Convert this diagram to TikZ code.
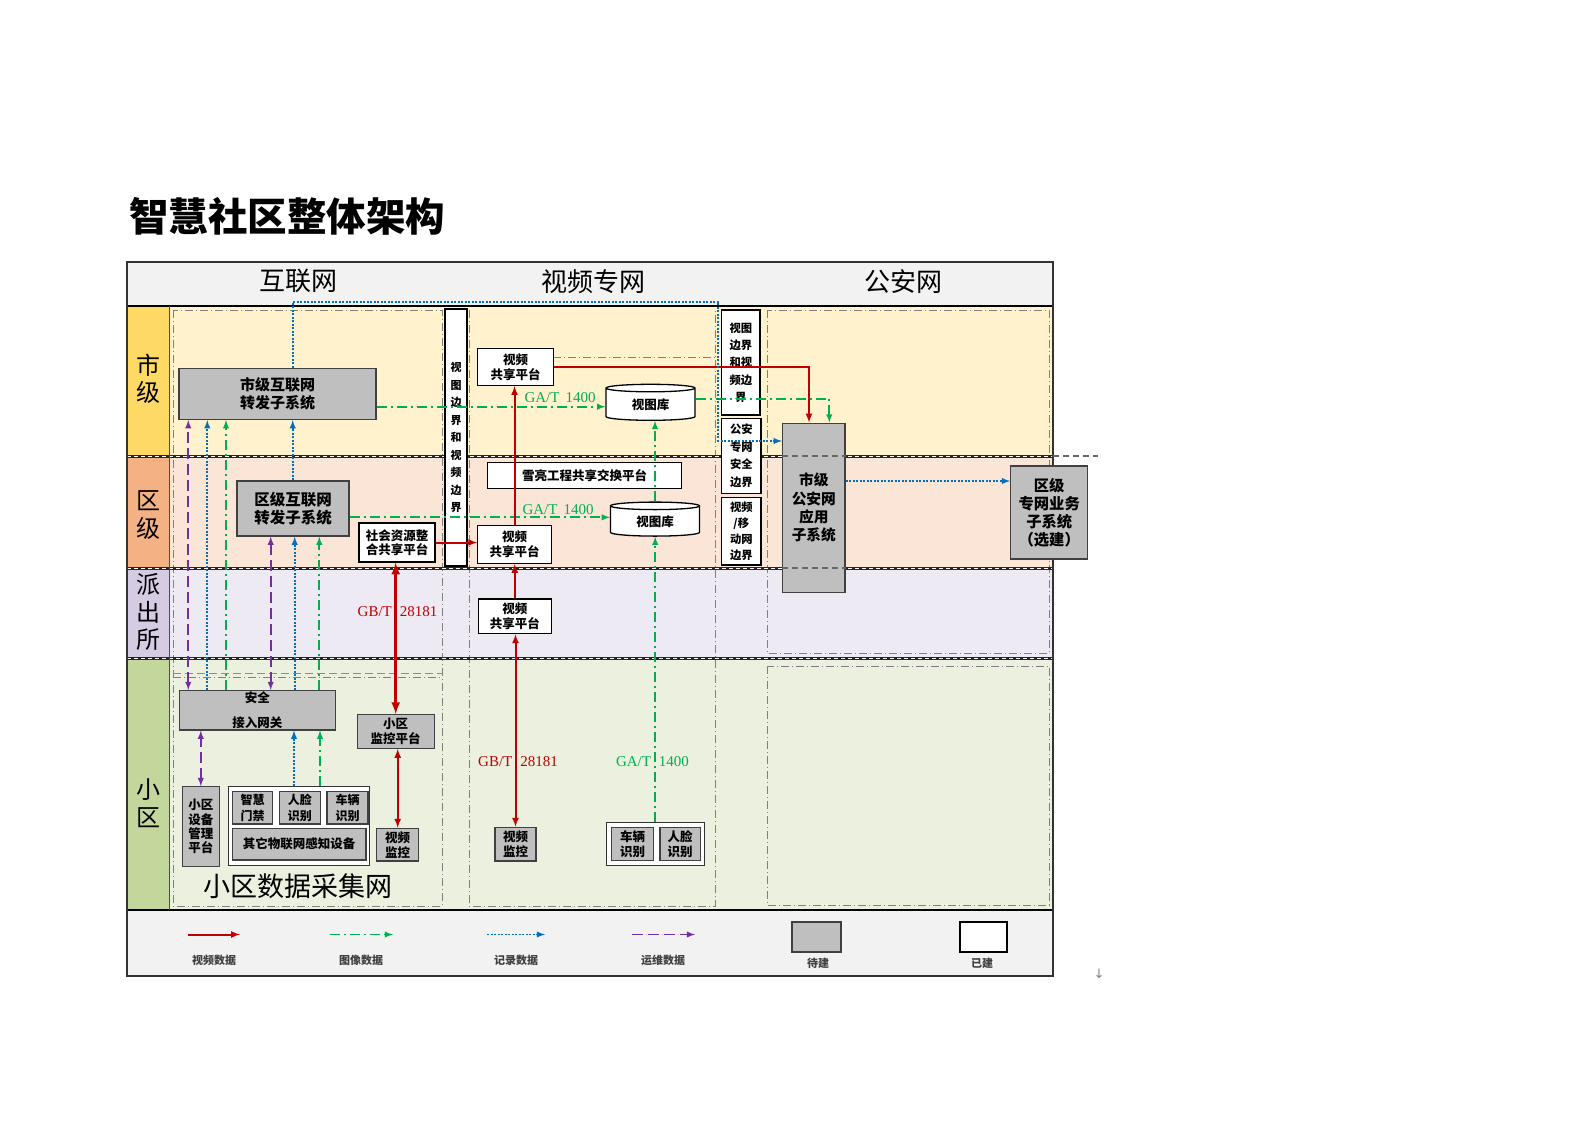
\documentclass[tikz,border=0pt]{standalone}
\usepackage{fontspec}
\setmainfont{Liberation Serif}
\newfontfamily\cjk{Noto Sans CJK SC}
\newfontfamily\symfont{DejaVu Sans}
\usetikzlibrary{positioning,shapes,shadows,arrows}

\definecolor{vred}{HTML}{C00000}
\definecolor{vgreen}{HTML}{00B050}
\definecolor{vblue}{HTML}{0070C0}
\definecolor{vpurple}{HTML}{7030A0}
\definecolor{boxgray}{HTML}{BFBFBF}
\definecolor{headgray}{HTML}{F2F2F2}
\definecolor{cityrow}{HTML}{FFF2CC}
\definecolor{citylab}{HTML}{FFD966}
\definecolor{distrow}{HTML}{FBE5D6}
\definecolor{distlab}{HTML}{F4B183}
\definecolor{polrow}{HTML}{EEEAF3}
\definecolor{pollab}{HTML}{D5CBE3}
\definecolor{commrow}{HTML}{EBF1DE}
\definecolor{commlab}{HTML}{C3D69B}

\newcommand\bxfont[2]{\cjk\bfseries\fontsize{#1}{#2}\selectfont}

\tikzset{
  todo/.style={draw=black!75, line width=1.3pt, fill=boxgray, align=center, inner sep=0pt, font=\bxfont{12.5}{15}},
  done/.style={draw=black, line width=1.3pt, fill=white, align=center, inner sep=0pt, font=\bxfont{12.5}{15}},
  viewlib/.style={done, cylinder, shape border rotate=90, aspect=0.2, minimum width=89pt, minimum height=36pt},
  holder/.style={draw=black!80, line width=1pt, fill=white, inner sep=0pt},
  videoflow/.style={draw=vred, line width=2pt, -latex},
  imageflow/.style={draw=vgreen, line width=1.8pt, dash pattern=on 10pt off 4pt on 2pt off 4pt, -latex},
  recordflow/.style={draw=vblue, line width=1.8pt, dash pattern=on 2pt off 1.5pt, -latex},
  opsflow/.style={draw=vpurple, line width=1.8pt, dash pattern=on 11pt off 5pt, -latex},
  zone/.style={draw=black!50, line width=0.9pt, dash pattern=on 8pt off 3pt on 1pt off 3pt},
  rowline/.style={draw=black!85, line width=3pt},
  rowdash/.style={draw=white, line width=0.9pt, dash pattern=on 4pt off 3pt},
  overdash/.style={draw=black!60, line width=1.2pt, dash pattern=on 6pt off 4pt},
  flowlabel/.style={font=\fontsize{15}{15}\selectfont, inner sep=0pt},
  legendtext/.style={font=\bxfont{11}{11}, text=black!75, inner sep=0pt},
}

\begin{document}
\begin{tikzpicture}[x=1pt, y=-1pt]
  \useasboundingbox (0,0) rectangle (1591,1125);
  \node[font=\bxfont{39.5}{40}] (title) at (287,216.5) {智慧社区整体架构};

  % bands
  \fill[headgray] (127,262) rectangle (1053,306);
  \fill[cityrow] (169,306) rectangle (1053,456);
  \fill[distrow] (169,456) rectangle (1053,568);
  \fill[polrow] (169,568) rectangle (1053,658);
  \fill[commrow] (169,658) rectangle (1053,910);
  \fill[headgray] (127,910) rectangle (1053,976);
  \fill[citylab] (127,306) rectangle (169,456);
  \fill[distlab] (127,456) rectangle (169,568);
  \fill[pollab] (127,568) rectangle (169,658);
  \fill[commlab] (127,658) rectangle (169,910);

  % zones
  \draw[zone] (173,310) rectangle (442,906);
  \draw[zone] (173,677) -- (442,677);
  \draw[black!45, line width=0.9pt, dash pattern=on 8pt off 4pt] (173,673) -- (442,673);
  \draw[zone] (469,310) -- (469,906) -- (715,906) -- (715,310);
  \draw[zone] (553,357) -- (715,357);
  \draw[zone] (767,310) rectangle (1049,653);
  \draw[zone] (767,666) rectangle (1049,905);

  % row lines
  \foreach \y in {456,568,658} {
    \draw[rowline] (127,\y) -- (1053,\y);
    \draw[rowdash] (127,\y) -- (1053,\y);
  }
  \draw[line width=2pt] (127,306) -- (1053,306);
  \draw[line width=2pt] (127,910) -- (1053,910);
  \draw[black!70, line width=1pt] (169,306) -- (169,910);
  \draw[black!80, line width=1.5pt] (127,262) rectangle (1053,976);
  \draw[overdash] (1053,456) -- (1098,456);

  % headers and levels
  \node[font=\cjk\fontsize{26}{26}\selectfont] (hinet) at (298,281) {互联网};
  \node[font=\cjk\fontsize{26}{26}\selectfont] (hvideo) at (593,281.5) {视频专网};
  \node[font=\cjk\fontsize{26}{26}\selectfont] (hpolice) at (903,281.5) {公安网};
  \node[font=\cjk\fontsize{24}{27.5}\selectfont, align=center] (lcity) at (148,379) {市\\级};
  \node[font=\cjk\fontsize{24}{27.5}\selectfont, align=center] (ldist) at (148,515) {区\\级};
  \node[font=\cjk\fontsize{24}{27.5}\selectfont, align=center] (lpol) at (148,612) {派\\出\\所};
  \node[font=\cjk\fontsize{24}{27.5}\selectfont, align=center] (lcomm) at (148,803) {小\\区};

  % internet side
  \node[todo, minimum width=197pt, minimum height=51pt, font=\bxfont{15}{18.5}] (cityinet) at (277.5,394) {市级互联网\\转发子系统};
  \node[todo, minimum width=112pt, minimum height=55pt, font=\bxfont{15.5}{18.5}] (distinet) at (293,508.5) {区级互联网\\转发子系统};
  \node[done, minimum width=76pt, minimum height=39pt, font=\bxfont{12.5}{14.3}] (socres) at (397,542.5) {社会资源整\\合共享平台};
  \node[todo, minimum width=156pt, minimum height=39.3pt, font=\bxfont{12.5}{24.7}] (gateway) at (257.3,710.3) {安全\\接入网关};
  \node[todo, minimum width=77pt, minimum height=33.6pt] (commmon) at (395.7,731.5) {小区\\监控平台};
  \node[todo, minimum width=37pt, minimum height=80pt, font=\bxfont{12.5}{14.4}] (devmgmt) at (200.8,826.7) {小区\\设备\\管理\\平台};
  \node[holder, minimum width=140.6pt, minimum height=78.3pt] (sensors) at (299,825.9) {};
  \node[todo, minimum width=40.4pt, minimum height=32.7pt, font=\bxfont{12}{15.7}] (door) at (252.5,807.7) {智慧\\门禁};
  \node[todo, minimum width=40.7pt, minimum height=32.7pt, font=\bxfont{12}{15.7}, right=5.5pt of door] (facea) {人脸\\识别};
  \node[todo, minimum width=41pt, minimum height=32.7pt, font=\bxfont{12}{15.7}, right=5.5pt of facea] (cara) {车辆\\识别};
  \node[todo, minimum width=133.7pt, minimum height=31.7pt] (iot) at (299.2,844.2) {其它物联网感知设备};
  \node[todo, minimum width=42pt, minimum height=32.7pt] (cama) at (397.7,844.7) {视频\\监控};
  \node[font=\cjk\fontsize{27}{27}\selectfont] (collectnet) at (298.3,886) {小区数据采集网};

  % video side
  \node[done, minimum width=22pt, minimum height=257pt, font=\bxfont{11}{17.5}] (lbound) at (456,437.5) {视\\图\\边\\界\\和\\视\\频\\边\\界};
  \node[done, minimum width=75.6pt, minimum height=37pt] (cityshare) at (515.5,367) {视频\\共享平台};
  \node[viewlib] (citylib) at (650.5,404.5) {视图库};
  \node[done, minimum width=194.4pt, minimum height=25.6pt] (xueliang) at (584.5,475.5) {雪亮工程共享交换平台};
  \node[viewlib, minimum height=34pt] (distlib) at (655,521.3) {视图库};
  \node[done, minimum width=73.6pt, minimum height=38pt] (distshare) at (514.5,544.3) {视频\\共享平台};
  \node[done, minimum width=73pt, minimum height=34.7pt] (polshare) at (514.8,616.3) {视频\\共享平台};
  \node[todo, minimum width=41pt, minimum height=33.7pt] (camb) at (515.5,844.2) {视频\\监控};
  \node[holder, minimum width=98.3pt, minimum height=42.7pt] (catchers) at (655.2,843.7) {};
  \node[todo, minimum width=41.6pt, minimum height=33.4pt] (carb) at (632.5,844) {车辆\\识别};
  \node[todo, minimum width=40.3pt, minimum height=33.4pt, right=5.3pt of carb] (faceb) {人脸\\识别};

  % police side
  \node[done, minimum width=38.3pt, minimum height=105pt, font=\bxfont{11.3}{17.3}] (rbound1) at (740.8,362.5) {视图\\边界\\和视\\频边\\界};
  \node[done, minimum width=39.3pt, minimum height=75pt, font=\bxfont{11.3}{17.5}] (rbound2) at (741.3,455.8) {公安\\专网\\安全\\边界};
  \node[done, minimum width=39.3pt, minimum height=67.7pt, font=\bxfont{11.3}{16}] (rbound3) at (741.3,531.2) {视频\\/移\\动网\\边界};
  \node[todo, minimum width=62.5pt, minimum height=169.3pt, font=\bxfont{14.7}{18.3}] (cityapp) at (813.8,507.8) {市级\\公安网\\应用\\子系统};
  \node[todo, minimum width=77pt, minimum height=93pt, font=\bxfont{15.3}{18}] (distbiz) at (1049.2,512.5) {区级\\专网业务\\子系统\\（选建）};
  \draw[overdash] (cityapp.west |- 0,456) -- (cityapp.east |- 0,456);
  \draw[overdash] (cityapp.west |- 0,568) -- (cityapp.east |- 0,568);

  % flows, internet side
  \draw[opsflow, latex-latex] (gateway.north -| 188.3,0) -- (cityinet.south -| 188.3,0);
  \draw[recordflow] (gateway.north -| 207.3,0) -- (cityinet.south -| 207.3,0);
  \draw[imageflow] (gateway.north -| 226,0) -- (cityinet.south -| 226,0);
  \draw[opsflow, latex-latex] (gateway.north -| 270.7,0) -- (distinet.south -| 270.7,0);
  \draw[recordflow] (gateway.north -| 294.7,0) -- (distinet.south -| 294.7,0);
  \draw[imageflow] (gateway.north -| 319.3,0) -- (distinet.south -| 319.3,0);
  \draw[recordflow] (distinet.north -| 292.7,0) -- (cityinet.south -| 292.7,0);
  \draw[opsflow, latex-latex] (devmgmt.north) -- (devmgmt.north |- gateway.south);
  \draw[recordflow] (sensors.north -| 294,0) -- (gateway.south -| 294,0);
  \draw[imageflow] (sensors.north -| 320,0) -- (gateway.south -| 320,0);
  \draw[videoflow, latex-latex, line width=3pt] (commmon.north) -- (commmon.north |- socres.south);
  \draw[videoflow, latex-latex] (cama.north) -- (cama.north |- commmon.south);
  \draw[videoflow] (socres.east) -- (socres.east -| distshare.west);
  \draw[imageflow] (cityinet.east |- 0,406.7) -- (citylib.west |- 0,406.7);
  \draw[imageflow] (distinet.east |- 0,517.3) -- (distlib.west |- 0,517.3);

  % flows, video and police side
  \coordinate (recbend) at (718.3,301.7);
  \draw[videoflow] (distshare.north) -- (distshare.north |- cityshare.south);
  \draw[videoflow] (cityshare.east) -| (cityapp.north -| 809,0);
  \draw[videoflow] (polshare.north) -- (polshare.north |- distshare.south);
  \draw[videoflow, latex-latex] (camb.north) -- (camb.north |- polshare.south);
  \draw[imageflow] (catchers.north) -- (catchers.north |- distlib.south);
  \draw[imageflow] (distlib.north) -- (distlib.north |- citylib.south);
  \draw[imageflow] (citylib.east |- 0,399) -| (cityapp.north -| 829.3,0);
  \draw[recordflow] (cityinet.north -| 292.7,0) |- (recbend) |- (cityapp.west |- 0,441);
  \draw[recordflow] (cityapp.east |- 0,481) -- (distbiz.west |- 0,481);

  \node[flowlabel, text=vgreen] (gacity) at (560,398) {GA/T\hspace{6pt}1400};
  \node[flowlabel, text=vgreen] (gadist) at (558,509.3) {GA/T\hspace{6pt}1400};
  \node[flowlabel, text=vred] (gbcomm) at (397.5,612) {GB/T\hspace{8pt}28181};
  \node[flowlabel, text=vred] (gbvideo) at (518,762) {GB/T\hspace{8pt}28181};
  \node[flowlabel, text=vgreen] (gacomm) at (652.5,762) {GA/T\hspace{8pt}1400};

  % legend
  \node[legendtext] (lgvideo) at (214,960) {视频数据};
  \node[legendtext] (lgimage) at (361,960) {图像数据};
  \node[legendtext] (lgrecord) at (516,960) {记录数据};
  \node[legendtext] (lgops) at (663,960) {运维数据};
  \node[todo, minimum width=49pt, minimum height=30pt] (lgtodo) at (816.5,937) {};
  \node[legendtext] (lgtodotext) at (818,963) {待建};
  \node[done, minimum width=47pt, minimum height=30pt] (lgdone) at (983.5,937) {};
  \node[legendtext] (lgdonetext) at (982,963) {已建};
  \draw[videoflow] ([xshift=-26pt,yshift=25.5pt]lgvideo.center) -- ++(52,0);
  \draw[imageflow] ([xshift=-31pt,yshift=25.5pt]lgimage.center) -- ++(63,0);
  \draw[recordflow] ([xshift=-29pt,yshift=25.5pt]lgrecord.center) -- ++(58,0);
  \draw[opsflow] ([xshift=-31pt,yshift=25.5pt]lgops.center) -- ++(63,0);
  \node[font=\symfont\fontsize{13}{13}\selectfont, text=black!50] (parmark) at (1099,974) {↓};
\end{tikzpicture}
\end{document}
